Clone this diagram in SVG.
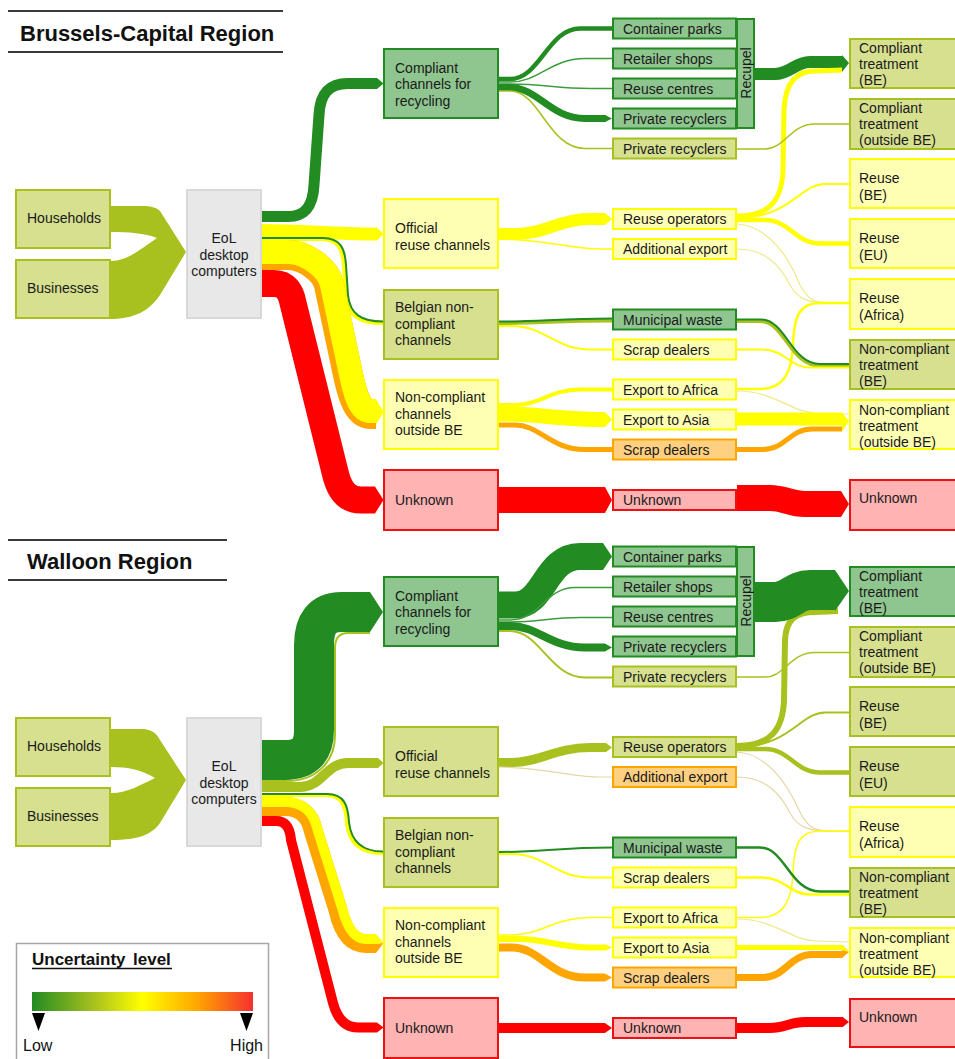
<svg xmlns="http://www.w3.org/2000/svg" width="955" height="1059" viewBox="0 0 955 1059">
<defs>
<linearGradient id="unc" x1="0" y1="0" x2="1" y2="0">
<stop offset="0" stop-color="#228b22"/>
<stop offset="0.28" stop-color="#a8c11e"/>
<stop offset="0.5" stop-color="#ffff00"/>
<stop offset="0.75" stop-color="#ffa500"/>
<stop offset="1" stop-color="#f53030"/>
</linearGradient>
<style>
text{font-family:"Liberation Sans",Arial,sans-serif;font-size:14px;fill:#1a1a1a}
.title{font-size:22px;font-weight:bold;fill:#111}
.lh{font-size:17px;font-weight:bold;fill:#111}
.ll{font-size:16px;fill:#111}
.hl{stroke:#3a3a3a;stroke-width:2}
.g,.o,.y,.a,.r,.e{stroke-width:2}
.g{fill:#8fc58f;stroke:#228b22}
.o{fill:#d6e08f;stroke:#a8c11e}
.y{fill:#ffffb3;stroke:#ffff00}
.a{fill:#ffd080;stroke:#ffa500}
.r{fill:#ffb3b3;stroke:#ee1111}
.e{fill:#e8e8e8;stroke:#d8d8d8}
.f{fill:none;stroke-linecap:butt;stroke-linejoin:round}
.fg{stroke:#228b22}.fo{stroke:#a8c11e}.fy{stroke:#ffff00}.fa{stroke:#ffa500}.fr{stroke:#ff0000}.fl{stroke:#3c9c3c}.fp{stroke:#eeea88}.ft{stroke:#e6d6a8}
.tg{fill:#228b22}.to{fill:#a8c11e}.ty{fill:#ffff00}.ta{fill:#ffa500}.tr{fill:#ff0000}
</style>
</defs>
<rect width="955" height="1059" fill="#ffffff"/>

<g id="connectors">
<!-- ===== Brussels ===== -->
<path class="to" d="M111,206 L142,206 C152,206 157,208 160,211 L186,252 L160,295 C150,310 135,319 111,319 L111,261 C128,261 142,248 157,238 C145,233 128,232 111,232 Z"/>
<path class="f fg" stroke-width="11" d="M262,216.5 L288,216.5 C306,216.5 313,205 314,185 L319,115 C320,95 328,83.5 348,83.5 L377,83.5"/>
<polygon class="tg" points="377,78 383.5,83.5 377,89"/>
<path class="f fy" stroke-width="13" d="M262,230.5 C305,230.5 330,234 377,234"/>
<polygon class="ty" points="377,227.5 383.5,234 377,240.5"/>
<path class="f fy" stroke-width="4" d="M262,239 L322,239 C338,239 343,249 344,266 L346,296 C348,316 360,323 383,323"/>
<path class="f fg" stroke-width="2" d="M262,238 L323,238 C340,238 345,248 346,265 L348,295 C350,314 361,321.5 383,321.5"/>
<path class="f fa" stroke-width="30" d="M262,255 L288,255 C306,255 326,271 329,285 L347,370 C350.5,387 356,414 370,414 L376,414"/>
<path class="f fy" stroke-width="24" d="M262,252 L288,252 C307,252 328.5,269 331.9,284.4 L349.9,369.4 C353.5,386 358,411 370,411 L376,411"/>
<polygon class="ty" points="376,399 383.5,412 376,425"/>
<path class="f fr" stroke-width="27" d="M262,283.5 L274,283.5 C286,283.5 291,292 293,303 L335,472 C339,490 347,500 361,500 L375,500"/>
<polygon class="tr" points="375,486.5 383.5,500 375,513.5"/>

<path class="f fg" stroke-width="4.5" d="M499,79 L510,79 C540,79 548,28.5 580,28.5 L612,28.5"/>
<path class="f fl" stroke-width="1.5" d="M499,82 L510,82 C540,82 550,58.5 585,58.5 L612,58.5"/>
<path class="f fl" stroke-width="1.5" d="M499,84 L510,84 C545,84 555,88.5 590,88.5 L612,88.5"/>
<path class="f fg" stroke-width="7" d="M499,87.5 L510,87.5 C538,87.5 550,118.5 585,118.5 L606,118.5"/>
<polygon class="tg" points="605,115 612,118.5 605,122"/>
<path class="f fo" stroke-width="1.5" d="M499,91 L510,91 C540,91 548,148.5 585,148.5 L612,148.5"/>
<path class="f fy" stroke-width="12" d="M499,234 L515,234 C545,234 560,219 590,219 L605,219"/>
<polygon class="ty" points="605,213 612,219 605,225"/>
<path class="f fy" stroke-width="1.5" d="M499,239 C550,240 570,249 600,249 L612,249"/>
<path class="f fo" stroke-width="4" d="M499,323 C540,323 560,320.5 612,320.5"/>
<path class="f fg" stroke-width="2" d="M499,321.5 C540,321.5 560,318.5 612,318.5"/>
<path class="f fy" stroke-width="2" d="M499,326 L512,326 C545,326 555,349.5 590,349.5 L612,349.5"/>
<path class="f fy" stroke-width="4" d="M499,405 L515,405 C540,405 550,389.5 580,389.5 L612,389.5"/>
<path class="f fy" stroke-width="15" d="M499,414 C540,414 560,419.5 605,419.5"/>
<polygon class="ty" points="605,412 612,419.5 605,427"/>
<path class="f fa" stroke-width="5" d="M499,425 L515,425 C540,425 550,449.5 585,449.5 L612,449.5"/>
<path class="f fr" stroke-width="26" d="M499,500 L605,500"/>
<polygon class="tr" points="605,487 612,500 605,513"/>

<path class="f fg" stroke-width="12" d="M755,74 L775,74 C790,74 795,62 810,62 L842,62"/>
<path class="f fy" stroke-width="5" d="M737,216 C770,216 782,200 783,170 L784,110 C785,85 795,71 815,71 L842,70"/>
<polygon class="tg" points="842,55 849,63 842,72"/>
<path class="f fo" stroke-width="1.5" d="M737,149 L765,149 C785,149 790,124 815,124 L849,124"/>
<path class="f fy" stroke-width="2" d="M737,218 C790,218 800,184 825,184 L849,184"/>
<path class="f fy" stroke-width="4.5" d="M737,220 L765,220 C790,220 795,243.5 820,243.5 L849,243.5"/>
<path class="f fp" stroke-width="1.2" d="M737,224 C770,226 790,260 800,285 C808,300 815,303 830,303 L849,303"/>
<path class="f fp" stroke-width="1.2" d="M737,249 C765,249 780,265 790,285 C798,300 810,303 830,303 L849,303"/>
<path class="f fy" stroke-width="2.5" d="M737,389 L760,389 C785,389 792,370 793,345 C794,315 800,303 820,303 L849,303"/>
<path class="f fp" stroke-width="1.2" d="M737,391 C775,391 790,412 815,413 L849,414"/>
<path class="f fo" stroke-width="4" d="M737,321 L760,321 C785,321 790,365.5 820,365.5 L849,365.5"/>
<path class="f fg" stroke-width="2" d="M737,319.5 L761,319.5 C786,319.5 791,364 820,364 L849,364"/>
<path class="f fy" stroke-width="2" d="M737,349.5 L762,349.5 C785,349.5 790,367.5 810,367.5 L849,367.5"/>
<path class="f fy" stroke-width="13" d="M737,419 L842,419"/>
<path class="f fa" stroke-width="5" d="M737,449.5 L763,449.5 C785,449.5 790,429 812,429 L842,429"/>
<polygon class="ty" points="842,412.5 849,421 842,431.5"/>
<path class="f fr" stroke-width="26" d="M737,498 L770,498 C785,498 790,504 805,504 L841,504"/>
<polygon class="tr" points="841,491 849,504 841,517"/>

<!-- ===== Walloon ===== -->
<path class="to" d="M111,729 L142,729 C152,729 157,734 160,740 L186,780 L160,823 C152,834 140,840 111,840 L111,793 C128,793 140,785 155,778 C142,770 128,767 111,767 Z"/>
<path class="f fo" stroke-width="2" d="M262,781 L287,781 C316,781 335,762 335,735 L335,648 C335,638 339,633 348,633 L370,633"/>
<path class="f fg" stroke-width="40" d="M262,760 L285,760 C305,760 314,750 314,730 L314,645 C314,624 322,612 342,612 L370,612"/>
<polygon class="tg" points="370,592 383,612 370,632"/>
<path class="f fo" stroke-width="10" d="M262,787 L300,787 C322,787 326,763 348,763 L378,763"/>
<polygon class="to" points="378,758 383.5,763 378,768"/>
<path class="f fy" stroke-width="4" d="M262,795 L326,795 C342,795 346,806 347,823 C349,843 360,853 383,853"/>
<path class="f fg" stroke-width="2" d="M262,794 L327,794 C344,794 348,805 349,822 C351,841 361,851.5 383,851.5"/>
<path class="f fa" stroke-width="19" d="M262,806.5 L285,806.5 C300,806.5 310,815 313,830 L338,910 C342,928 350,943.5 366,943.5 L376,943.5"/>
<path class="f fy" stroke-width="10" d="M262,802 L285,802 C301,802 313,810 317.3,828.7 L342.3,908.7 C346.5,925 354,939 366,939 L376,939"/>
<polygon class="ty" points="376,934 383.5,943 376,944"/>
<polygon class="ta" points="376,944 383.5,943 376,953"/>
<path class="f fr" stroke-width="10" d="M262,821 L276,821 C286,821 290,828 291,840 L333,1003 C337,1018 345,1027.5 358,1027.5 L377,1027.5"/>
<polygon class="tr" points="377,1022.5 383.5,1027.5 377,1032.5"/>

<path class="f fg" stroke-width="27" d="M499,605 L515,605 C545,605 545,556.5 580,556.5 L603,556.5"/>
<polygon class="tg" points="603,543 612,556.5 603,570"/>
<path class="f fl" stroke-width="1.5" d="M499,620 L510,620 C540,620 545,587.5 575,587.5 L612,587.5"/>
<path class="f fl" stroke-width="1.5" d="M499,622 L510,622 C540,622 550,617.5 580,617.5 L612,617.5"/>
<path class="f fg" stroke-width="8" d="M499,626 L510,626 C538,626 550,647.5 585,647.5 L605,647.5"/>
<polygon class="tg" points="605,643.5 612,647.5 605,651.5"/>
<path class="f fo" stroke-width="2" d="M499,631 L510,631 C540,631 550,677.5 585,677.5 L612,677.5"/>
<path class="f fo" stroke-width="9" d="M499,762.5 L512,762.5 C540,762.5 555,747.5 590,747.5 L606,747.5"/>
<polygon class="to" points="606,743 612,747.5 606,752"/>
<path class="f ft" stroke-width="1.2" d="M499,767 C550,768 570,777 600,777 L612,777"/>
<path class="f fg" stroke-width="2" d="M499,852 C540,852 560,847.5 612,847.5"/>
<path class="f fy" stroke-width="2" d="M499,854 L512,854 C545,854 555,877.5 590,877.5 L612,877.5"/>
<path class="f fy" stroke-width="1.5" d="M499,935 L512,935 C540,935 555,917.5 590,917.5 L612,917.5"/>
<path class="f fy" stroke-width="6" d="M499,939 L520,939 C545,939 560,947.5 590,947.5 L606,947.5"/>
<polygon class="ty" points="606,944.5 612,947.5 606,950.5"/>
<path class="f fa" stroke-width="8" d="M499,947.5 L512,947.5 C540,947.5 550,977.5 585,977.5 L605,977.5"/>
<polygon class="ta" points="605,973.5 612,977.5 605,981.5"/>
<path class="f fr" stroke-width="10" d="M499,1028 L605,1028"/>
<polygon class="tr" points="605,1023 612,1028 605,1033"/>

<path class="f fo" stroke-width="6" d="M737,746 C770,746 783,730 784,700 L785,640 C786,620 795,612 815,612 L838,611"/>
<path class="f fg" stroke-width="40" d="M755,602 L775,602 C790,602 795,590 810,590 L835,590"/>
<polygon class="tg" points="835,570 849,591 835,611"/>
<path class="f fo" stroke-width="1.5" d="M737,677 L765,677 C785,677 790,652.5 815,652.5 L849,652.5"/>
<path class="f fo" stroke-width="2" d="M737,747 C790,747 800,712.5 825,712.5 L849,712.5"/>
<path class="f fo" stroke-width="4.5" d="M737,749 L765,749 C790,749 795,772.5 820,772.5 L849,772.5"/>
<path class="f ft" stroke-width="1.2" d="M737,752 C770,754 790,790 800,812 C808,828 815,831 830,831 L849,831"/>
<path class="f ft" stroke-width="1.2" d="M737,777 C765,777 780,793 790,813 C798,828 810,831 830,831 L849,831"/>
<path class="f fy" stroke-width="1.5" d="M737,917.5 L760,917.5 C785,917.5 792,898 793,873 C794,843 800,831 820,831 L849,831"/>
<path class="f fp" stroke-width="1.2" d="M737,919 C775,919 790,940 815,941 L849,942"/>
<path class="f fg" stroke-width="2.5" d="M737,847.5 L760,847.5 C785,847.5 790,891.5 820,891.5 L849,891.5"/>
<path class="f fy" stroke-width="2.5" d="M737,877.5 L762,877.5 C785,877.5 790,894.5 810,894.5 L849,894.5"/>
<path class="f fy" stroke-width="5" d="M737,947.5 L842,947.5"/>
<path class="f fa" stroke-width="7" d="M737,977.5 L763,977.5 C785,977.5 790,954.5 812,954.5 L842,954.5"/>
<polygon class="ta" points="842,944.5 849,952 842,958"/>
<polygon class="ty" points="842,944.5 849,952 842,950"/>
<path class="f fr" stroke-width="10" d="M737,1028 L770,1028 C785,1028 790,1022 805,1022 L842,1022"/>
<polygon class="tr" points="842,1016.5 849,1022 842,1027.5"/>
</g>

<!-- titles -->
<g id="title-brussels">
<line class="hl" x1="8" y1="11" x2="283" y2="11"/>
<text class="title" x="20" y="41">Brussels-Capital Region</text>
<line class="hl" x1="8" y1="52" x2="283" y2="52"/>
</g>
<g id="title-walloon">
<line class="hl" x1="8" y1="540" x2="227" y2="540"/>
<text class="title" x="27" y="569">Walloon Region</text>
<line class="hl" x1="8" y1="580" x2="227" y2="580"/>
</g>

<!-- ===== Brussels nodes ===== -->
<g id="b-households"><rect class="o" x="16" y="190" width="94" height="58"/><text x="27" y="223">Households</text></g>
<g id="b-businesses"><rect class="o" x="16" y="260" width="94" height="58"/><text x="27" y="293">Businesses</text></g>
<g id="b-eol"><rect class="e" x="187" y="190" width="74" height="128"/><text x="224" y="243" text-anchor="middle"><tspan x="224">EoL</tspan><tspan x="224" dy="16.5">desktop</tspan><tspan x="224" dy="16.5">computers</tspan></text></g>

<g id="b-compliant-channels"><rect class="g" x="384" y="49" width="114" height="69"/><text x="395" y="72.5"><tspan x="395">Compliant</tspan><tspan x="395" dy="16.5">channels for</tspan><tspan x="395" dy="16.5">recycling</tspan></text></g>
<g id="b-official-reuse"><rect class="y" x="384" y="199" width="114" height="69"/><text x="395" y="233"><tspan x="395">Official</tspan><tspan x="395" dy="17">reuse channels</tspan></text></g>
<g id="b-belgian-noncompliant"><rect class="o" x="384" y="290" width="114" height="69"/><text x="395" y="312"><tspan x="395">Belgian non-</tspan><tspan x="395" dy="16.5">compliant</tspan><tspan x="395" dy="16.5">channels</tspan></text></g>
<g id="b-noncompliant-outside"><rect class="y" x="384" y="380" width="114" height="69"/><text x="395" y="402"><tspan x="395">Non-compliant</tspan><tspan x="395" dy="16.5">channels</tspan><tspan x="395" dy="16.5">outside BE</tspan></text></g>
<g id="b-unknown-1"><rect class="r" x="384" y="470" width="114" height="60"/><text x="395" y="504.5">Unknown</text></g>

<g id="b-container-parks"><rect class="g" x="613" y="18.5" width="123" height="20"/><text x="623" y="33.5">Container parks</text></g>
<g id="b-retailer-shops"><rect class="g" x="613" y="48.5" width="123" height="20"/><text x="623" y="63.5">Retailer shops</text></g>
<g id="b-reuse-centres"><rect class="g" x="613" y="78.5" width="123" height="20"/><text x="623" y="93.5">Reuse centres</text></g>
<g id="b-private-recyclers-1"><rect class="g" x="613" y="108.5" width="123" height="20"/><text x="623" y="123.5">Private recyclers</text></g>
<g id="b-recupel"><rect class="g" x="737" y="19" width="17" height="109"/><text transform="translate(751,73) rotate(-90)" text-anchor="middle">Recupel</text></g>
<g id="b-private-recyclers-2"><rect class="o" x="613" y="138.5" width="123" height="20"/><text x="623" y="153.5">Private recyclers</text></g>
<g id="b-reuse-operators"><rect class="y" x="613" y="209" width="123" height="20"/><text x="623" y="224">Reuse operators</text></g>
<g id="b-additional-export"><rect class="y" x="613" y="239" width="123" height="20"/><text x="623" y="254">Additional export</text></g>
<g id="b-municipal-waste"><rect class="g" x="613" y="309.5" width="123" height="20"/><text x="623" y="324.5">Municipal waste</text></g>
<g id="b-scrap-dealers-1"><rect class="y" x="613" y="339.5" width="123" height="20"/><text x="623" y="354.5">Scrap dealers</text></g>
<g id="b-export-africa"><rect class="y" x="613" y="379.5" width="123" height="20"/><text x="623" y="394.5">Export to Africa</text></g>
<g id="b-export-asia"><rect class="y" x="613" y="409.5" width="123" height="20"/><text x="623" y="424.5">Export to Asia</text></g>
<g id="b-scrap-dealers-2"><rect class="a" x="613" y="439.5" width="123" height="20"/><text x="623" y="454.5">Scrap dealers</text></g>
<g id="b-unknown-2"><rect class="r" x="613" y="490" width="123" height="20"/><text x="623" y="505">Unknown</text></g>

<g id="b-ct-be"><rect class="o" x="850" y="39" width="120" height="49"/><text x="859" y="53"><tspan x="859">Compliant</tspan><tspan x="859" dy="16">treatment</tspan><tspan x="859" dy="16">(BE)</tspan></text></g>
<g id="b-ct-outside"><rect class="o" x="850" y="99" width="120" height="50"/><text x="859" y="113"><tspan x="859">Compliant</tspan><tspan x="859" dy="16">treatment</tspan><tspan x="859" dy="16">(outside BE)</tspan></text></g>
<g id="b-reuse-be"><rect class="y" x="850" y="159" width="120" height="49"/><text x="859" y="183"><tspan x="859">Reuse</tspan><tspan x="859" dy="17">(BE)</tspan></text></g>
<g id="b-reuse-eu"><rect class="y" x="850" y="219" width="120" height="49"/><text x="859" y="243"><tspan x="859">Reuse</tspan><tspan x="859" dy="17">(EU)</tspan></text></g>
<g id="b-reuse-africa"><rect class="y" x="850" y="279" width="120" height="50"/><text x="859" y="303"><tspan x="859">Reuse</tspan><tspan x="859" dy="17">(Africa)</tspan></text></g>
<g id="b-nct-be"><rect class="o" x="850" y="340" width="120" height="49"/><text x="859" y="354"><tspan x="859">Non-compliant</tspan><tspan x="859" dy="16">treatment</tspan><tspan x="859" dy="16">(BE)</tspan></text></g>
<g id="b-nct-outside"><rect class="y" x="850" y="400" width="120" height="49"/><text x="859" y="415"><tspan x="859">Non-compliant</tspan><tspan x="859" dy="16">treatment</tspan><tspan x="859" dy="16">(outside BE)</tspan></text></g>
<g id="b-unknown-3"><rect class="r" x="850" y="480" width="120" height="50"/><text x="859" y="503">Unknown</text></g>

<!-- ===== Walloon nodes ===== -->
<g id="w-households"><rect class="o" x="16" y="718" width="94" height="58"/><text x="27" y="751">Households</text></g>
<g id="w-businesses"><rect class="o" x="16" y="788" width="94" height="58"/><text x="27" y="821">Businesses</text></g>
<g id="w-eol"><rect class="e" x="187" y="718" width="74" height="128"/><text x="224" y="771" text-anchor="middle"><tspan x="224">EoL</tspan><tspan x="224" dy="16.5">desktop</tspan><tspan x="224" dy="16.5">computers</tspan></text></g>

<g id="w-compliant-channels"><rect class="g" x="384" y="577" width="114" height="69"/><text x="395" y="600.5"><tspan x="395">Compliant</tspan><tspan x="395" dy="16.5">channels for</tspan><tspan x="395" dy="16.5">recycling</tspan></text></g>
<g id="w-official-reuse"><rect class="o" x="384" y="727" width="114" height="69"/><text x="395" y="761"><tspan x="395">Official</tspan><tspan x="395" dy="17">reuse channels</tspan></text></g>
<g id="w-belgian-noncompliant"><rect class="o" x="384" y="818" width="114" height="69"/><text x="395" y="840"><tspan x="395">Belgian non-</tspan><tspan x="395" dy="16.5">compliant</tspan><tspan x="395" dy="16.5">channels</tspan></text></g>
<g id="w-noncompliant-outside"><rect class="y" x="384" y="908" width="114" height="69"/><text x="395" y="930"><tspan x="395">Non-compliant</tspan><tspan x="395" dy="16.5">channels</tspan><tspan x="395" dy="16.5">outside BE</tspan></text></g>
<g id="w-unknown-1"><rect class="r" x="384" y="998" width="114" height="60"/><text x="395" y="1032.5">Unknown</text></g>

<g id="w-container-parks"><rect class="g" x="613" y="546.5" width="123" height="20"/><text x="623" y="561.5">Container parks</text></g>
<g id="w-retailer-shops"><rect class="g" x="613" y="576.5" width="123" height="20"/><text x="623" y="591.5">Retailer shops</text></g>
<g id="w-reuse-centres"><rect class="g" x="613" y="606.5" width="123" height="20"/><text x="623" y="621.5">Reuse centres</text></g>
<g id="w-private-recyclers-1"><rect class="g" x="613" y="636.5" width="123" height="20"/><text x="623" y="651.5">Private recyclers</text></g>
<g id="w-recupel"><rect class="g" x="737" y="547" width="17" height="109"/><text transform="translate(751,601) rotate(-90)" text-anchor="middle">Recupel</text></g>
<g id="w-private-recyclers-2"><rect class="o" x="613" y="666.5" width="123" height="20"/><text x="623" y="681.5">Private recyclers</text></g>
<g id="w-reuse-operators"><rect class="o" x="613" y="737" width="123" height="20"/><text x="623" y="752">Reuse operators</text></g>
<g id="w-additional-export"><rect class="a" x="613" y="767" width="123" height="20"/><text x="623" y="782">Additional export</text></g>
<g id="w-municipal-waste"><rect class="g" x="613" y="837.5" width="123" height="20"/><text x="623" y="852.5">Municipal waste</text></g>
<g id="w-scrap-dealers-1"><rect class="y" x="613" y="867.5" width="123" height="20"/><text x="623" y="882.5">Scrap dealers</text></g>
<g id="w-export-africa"><rect class="y" x="613" y="907.5" width="123" height="20"/><text x="623" y="922.5">Export to Africa</text></g>
<g id="w-export-asia"><rect class="y" x="613" y="937.5" width="123" height="20"/><text x="623" y="952.5">Export to Asia</text></g>
<g id="w-scrap-dealers-2"><rect class="a" x="613" y="967.5" width="123" height="20"/><text x="623" y="982.5">Scrap dealers</text></g>
<g id="w-unknown-2"><rect class="r" x="613" y="1018" width="123" height="20"/><text x="623" y="1033">Unknown</text></g>

<g id="w-ct-be"><rect class="g" x="850" y="567" width="120" height="49"/><text x="859" y="581"><tspan x="859">Compliant</tspan><tspan x="859" dy="16">treatment</tspan><tspan x="859" dy="16">(BE)</tspan></text></g>
<g id="w-ct-outside"><rect class="o" x="850" y="627" width="120" height="50"/><text x="859" y="641"><tspan x="859">Compliant</tspan><tspan x="859" dy="16">treatment</tspan><tspan x="859" dy="16">(outside BE)</tspan></text></g>
<g id="w-reuse-be"><rect class="o" x="850" y="687" width="120" height="49"/><text x="859" y="711"><tspan x="859">Reuse</tspan><tspan x="859" dy="17">(BE)</tspan></text></g>
<g id="w-reuse-eu"><rect class="o" x="850" y="747" width="120" height="49"/><text x="859" y="771"><tspan x="859">Reuse</tspan><tspan x="859" dy="17">(EU)</tspan></text></g>
<g id="w-reuse-africa"><rect class="y" x="850" y="807" width="120" height="50"/><text x="859" y="831"><tspan x="859">Reuse</tspan><tspan x="859" dy="17">(Africa)</tspan></text></g>
<g id="w-nct-be"><rect class="o" x="850" y="868" width="120" height="49"/><text x="859" y="882"><tspan x="859">Non-compliant</tspan><tspan x="859" dy="16">treatment</tspan><tspan x="859" dy="16">(BE)</tspan></text></g>
<g id="w-nct-outside"><rect class="y" x="850" y="928" width="120" height="49"/><text x="859" y="943"><tspan x="859">Non-compliant</tspan><tspan x="859" dy="16">treatment</tspan><tspan x="859" dy="16">(outside BE)</tspan></text></g>
<g id="w-unknown-3"><rect class="r" x="850" y="999" width="120" height="48"/><text x="859" y="1022">Unknown</text></g>

<!-- legend -->
<g id="legend">
<rect x="16.5" y="943.5" width="252" height="130" fill="#ffffff" stroke="#a6a6a6" stroke-width="1.5"/>
<text class="lh" x="32" y="965">Uncertainty</text>
<text class="lh" x="133" y="965">level</text>
<line x1="32" y1="968.5" x2="172" y2="968.5" stroke="#111" stroke-width="1.5"/>
<rect x="32" y="992" width="221" height="19" fill="url(#unc)"/>
<polygon points="32,1013 45,1013 38.5,1031" fill="#000"/>
<polygon points="240,1013 253,1013 246.5,1031" fill="#000"/>
<text class="ll" x="23" y="1051">Low</text>
<text class="ll" x="263" y="1051" text-anchor="end">High</text>
</g>
</svg>
